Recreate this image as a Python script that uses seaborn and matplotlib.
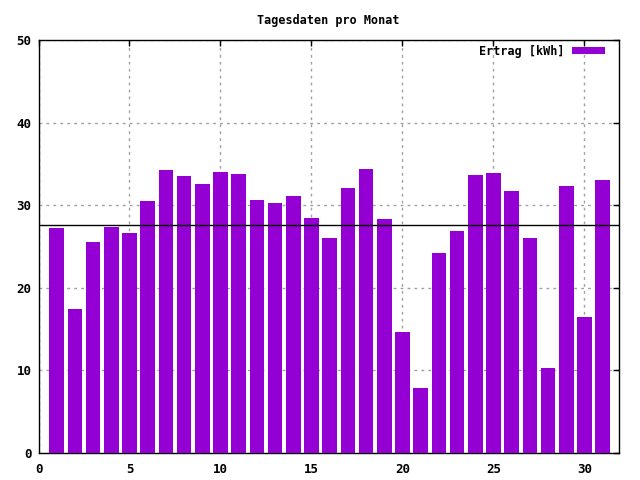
import matplotlib
matplotlib.use("Agg")
import matplotlib.pyplot as plt
import seaborn as sns
import pandas as pd

days = list(range(1, 32))
ertrag = [27.2, 17.4, 25.5, 27.4, 26.6, 30.5, 34.3, 33.5, 32.6, 34.0,
          33.8, 30.6, 30.3, 31.1, 28.5, 26.0, 32.1, 34.4, 28.3, 14.6,
          7.9, 24.2, 26.9, 33.7, 33.9, 31.7, 26.0, 10.3, 32.3, 16.5, 33.0]
average = 27.6
title = "Tagesdaten pro Monat"
series_label = "Ertrag [kWh]"

sns.set_style("white")
plt.rcParams['font.family'] = ['DejaVu Sans Mono']
plt.rcParams['font.weight'] = 'bold'
plt.rcParams['text.color'] = 'black'

df = pd.DataFrame({"Tag": days, "Ertrag": ertrag})

fig = plt.figure(figsize=(6.4, 4.8), dpi=100)
ax = fig.add_axes([38.5 / 640, 27 / 480, 580 / 640, 413 / 480])

sns.barplot(data=df, x="Tag", y="Ertrag", native_scale=True, color="#9400D3",
            saturation=1, width=0.8, errorbar=None, label=series_label, ax=ax,
            linewidth=0, zorder=3)
ax.axhline(average, color="black", linewidth=1, zorder=4)

ax.set_xlim(0, 31.87)
ax.set_ylim(0, 50)
ax.set_xticks(range(0, 31, 5))
ax.set_yticks(range(0, 51, 10))
ax.set_xlabel("")
ax.set_ylabel("")

ax.grid(True, linestyle=(0, (2, 3)), color="#a0a0a0", linewidth=1, zorder=0)
ax.set_axisbelow(True)
for s in ax.spines.values():
    s.set_visible(True)
    s.set_color("black")
    s.set_linewidth(1)

ax.tick_params(direction="in", length=4.5, width=1, top=True, right=True,
               labelsize=9, colors="black")
ax.tick_params(axis="x", pad=7)
ax.tick_params(axis="y", pad=5)
for lab in ax.get_xticklabels() + ax.get_yticklabels():
    lab.set_fontweight("bold")

ax.set_title(title, fontsize=8.5, fontweight="bold", pad=11.5, color="black")

leg = ax.legend(loc="upper right", bbox_to_anchor=(0.985, 1.0), frameon=False,
                markerfirst=False, handlelength=2.8, handleheight=0.55,
                borderaxespad=0, handletextpad=0.6,
                prop={'weight': 'bold', 'size': 8.5})
for t in leg.get_texts():
    t.set_color("black")

fig.savefig("out.png", dpi=100)
